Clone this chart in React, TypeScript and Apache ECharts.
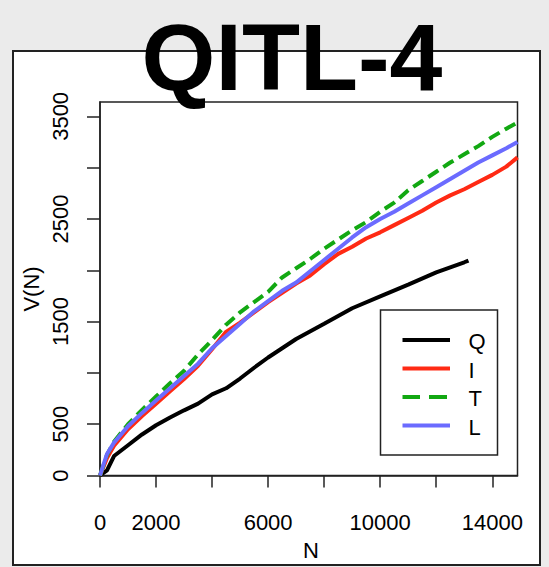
import React, { useEffect, useRef } from "react";
import * as echarts from "echarts";

// ---- data ----
const nQ = [0, 250, 500, 1000, 1500, 2000, 2500, 3000, 3500, 4000, 4500, 5000, 5500, 6000, 7000, 8000, 9000, 10000, 11000, 12000, 13000, 13150];
const vQ = [0, 50, 190, 295, 400, 490, 565, 635, 700, 790, 850, 945, 1050, 1150, 1330, 1478, 1630, 1745, 1860, 1980, 2078, 2095];

const nAll = [0, 250, 500, 1000, 1500, 2000, 2500, 3000, 3500, 4000, 4500, 5000, 5500, 6000, 6500, 7000, 7500, 8000, 8500, 9000, 9500, 10000, 10500, 11000, 11500, 12000, 12500, 13000, 13500, 14000, 14500, 14900];
const vI = [0, 170, 290, 450, 580, 700, 820, 940, 1070, 1230, 1400, 1490, 1590, 1690, 1780, 1870, 1950, 2060, 2160, 2230, 2310, 2370, 2440, 2510, 2580, 2660, 2730, 2790, 2860, 2930, 3010, 3100];
const vT = [0, 200, 330, 500, 640, 770, 900, 1020, 1180, 1320, 1470, 1590, 1690, 1790, 1930, 2020, 2110, 2210, 2300, 2390, 2470, 2570, 2660, 2780, 2870, 2960, 3050, 3130, 3210, 3300, 3380, 3440];
const vL = [0, 210, 320, 480, 610, 730, 850, 970, 1090, 1240, 1360, 1480, 1600, 1700, 1800, 1880, 1990, 2100, 2210, 2320, 2420, 2500, 2570, 2650, 2730, 2810, 2890, 2970, 3050, 3120, 3190, 3250];

const xTicks = [0, 2000, 4000, 6000, 8000, 10000, 12000, 14000];
const xLabels = [0, 2000, 6000, 10000, 14000];
const yTicks = [0, 500, 1000, 1500, 2000, 2500, 3000, 3500];
const yLabels = [0, 500, 1500, 2500, 3500];

const seriesNames = ["Q", "I", "T", "L"];
const seriesColors = ["#000000", "#ff2a14", "#12a812", "#6b6bff"];

const FONT = "Liberation Sans, Arial, sans-serif";

export default function App() {
  const ref = useRef<HTMLDivElement>(null);
  useEffect(() => {
    if (!ref.current) return;
    const chart = echarts.init(ref.current, null, { renderer: "svg" });
    const pairs = (xs: number[], ys: number[]) => xs.map((x, i) => [x, ys[i]]);
    const seriesData = [pairs(nQ, vQ), pairs(nAll, vI), pairs(nAll, vT), pairs(nAll, vL)];

    const legendRows = [340, 368.5, 397, 425.5];
    const legendEls: any[] = [
      {
        type: "rect",
        shape: { x: 380.5, y: 310, width: 117, height: 145 },
        style: { fill: "#fff", stroke: "#222", lineWidth: 1.5 },
        z: 100,
      },
    ];
    seriesNames.forEach((name, i) => {
      const y = legendRows[i];
      if (name === "T") {
        legendEls.push({
          type: "line",
          shape: { x1: 402.5, y1: y, x2: 420, y2: y },
          style: { stroke: seriesColors[i], lineWidth: 4 },
          z: 101,
        });
        legendEls.push({
          type: "line",
          shape: { x1: 429, y1: y, x2: 447, y2: y },
          style: { stroke: seriesColors[i], lineWidth: 4 },
          z: 101,
        });
      } else {
        legendEls.push({
          type: "line",
          shape: { x1: 402.5, y1: y, x2: 450, y2: y },
          style: { stroke: seriesColors[i], lineWidth: 4 },
          z: 101,
        });
      }
      legendEls.push({
        type: "text",
        x: 468.5,
        y: y + 1.5,
        style: {
          text: name,
          fill: "#000",
          font: `22px ${FONT}`,
          textAlign: "left",
          textVerticalAlign: "middle",
        },
        z: 101,
      });
    });

    chart.setOption({
      animation: false,
      backgroundColor: "#ebebeb",
      grid: {
        left: 100,
        right: 31.5,
        top: 102,
        bottom: 91.5,
        show: true,
        backgroundColor: "#ffffff",
        borderColor: "#222",
        borderWidth: 1.5,
      },
      xAxis: {
        type: "value",
        min: 0,
        max: 14900,
        splitLine: { show: false },
        axisLine: { show: true, lineStyle: { color: "#222", width: 1.5 } },
        axisTick: { show: true, customValues: xTicks, length: 12, lineStyle: { color: "#222", width: 1.5 } },
        axisLabel: {
          customValues: xLabels,
          color: "#000",
          fontSize: 22,
          fontFamily: FONT,
          margin: 36,
          formatter: (v: number) => String(v),
        },
      },
      yAxis: {
        type: "value",
        min: 0,
        max: 3640,
        splitLine: { show: false },
        axisLine: { show: true, lineStyle: { color: "#222", width: 1.5 } },
        axisTick: { show: true, customValues: yTicks, length: 13, lineStyle: { color: "#222", width: 1.5 } },
        axisLabel: {
          customValues: yLabels,
          rotate: 90,
          color: "#000",
          fontSize: 22,
          fontFamily: FONT,
          margin: 29,
          formatter: (v: number) => String(v),
        },
      },
      series: seriesNames.map((name, i) => ({
        name,
        type: "line",
        data: seriesData[i],
        showSymbol: false,
        symbol: "none",
        lineStyle: {
          color: seriesColors[i],
          width: 4,
          type: name === "T" ? [12, 6] : "solid",
        },
        z: name === "Q" ? 3 : name === "I" ? 4 : name === "T" ? 5 : 6,
      })),
      graphic: [
        {
          type: "rect",
          shape: { x: 13, y: 51, width: 527, height: 514 },
          style: { fill: "#ffffff", stroke: "#222", lineWidth: 2 },
          z: -100,
          silent: true,
        },
        {
          type: "text",
          x: 292,
          y: 104,
          style: {
            text: "QITL-4",
            fill: "#000",
            font: `bold 95px ${FONT}`,
            textAlign: "center",
            textVerticalAlign: "bottom",
          },
          z: 200,
        },
        {
          type: "text",
          x: 31,
          y: 289,
          rotation: Math.PI / 2,
          style: {
            text: "V(N)",
            fill: "#000",
            font: `22px ${FONT}`,
            textAlign: "center",
            textVerticalAlign: "middle",
          },
          z: 50,
        },
        {
          type: "text",
          x: 311,
          y: 550,
          style: {
            text: "N",
            fill: "#000",
            font: `22px ${FONT}`,
            textAlign: "center",
            textVerticalAlign: "middle",
          },
          z: 50,
        },
        ...legendEls,
      ],
    });
    return () => chart.dispose();
  }, []);
  return (
    <div
      ref={ref}
      style={{ position: "absolute", left: 0, top: 0, width: 549, height: 567 }}
    />
  );
}
